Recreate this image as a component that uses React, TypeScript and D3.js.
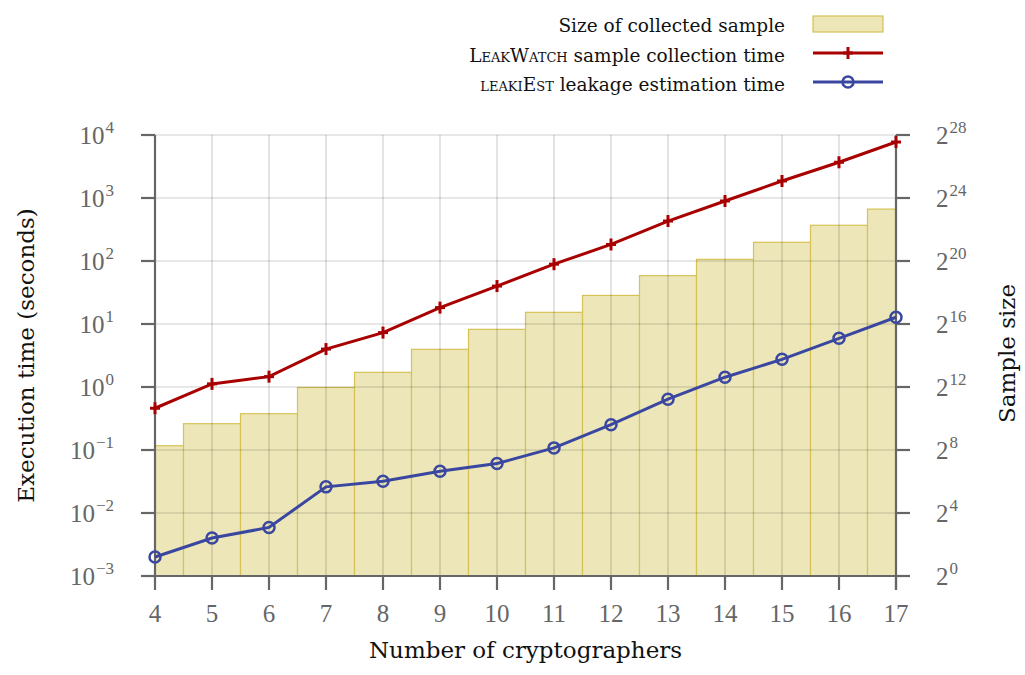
import React from "react";
import * as d3 from "d3";

const cryptographers = [4, 5, 6, 7, 8, 9, 10, 11, 12, 13, 14, 15, 16, 17];
const sampleSize = [309, 815, 1264, 4010, 7810, 21500, 51800, 109600, 231000, 550000, 1130000, 2390000, 5050000, 10300000];
const leakWatchTime = [0.46, 1.12, 1.46, 4.0, 7.3, 18.2, 40, 89, 183, 431, 896, 1862, 3690, 7740];
const leakiEstTime = [0.002, 0.004, 0.0059, 0.026, 0.032, 0.046, 0.061, 0.108, 0.252, 0.64, 1.43, 2.75, 5.93, 12.8];
const leftTickExps = [-3, -2, -1, 0, 1, 2, 3, 4];
const rightTickExps = [0, 4, 8, 12, 16, 20, 24, 28];

const NUMFONT = "'Liberation Serif', serif";
const WORDFONT = "'DejaVu Serif', serif";
const AXIS = "#666666";
const RED = "#a80000";
const BLUE = "#3a47a0";
const BAR_FILL = "#ede6b9";
const BAR_STROKE = "#d6c257";

export default function App() {
  const left = 155, right = 896, top = 135, bottom = 576;
  const x = d3.scaleLinear().domain([4, 17]).range([left, right]);
  const yL = d3.scaleLog().domain([1e-3, 1e4]).range([bottom, top]);
  const yR = d3.scaleLog().base(2).domain([1, 2 ** 28]).range([bottom, top]);

  const line = d3.line<number>().x((_, i) => x(cryptographers[i])).y((d) => yL(d));

  const cross = (cx: number, cy: number, k: string) => (
    <g key={k} stroke={RED} strokeWidth={3}>
      <line x1={cx - 5} x2={cx + 5} y1={cy} y2={cy} />
      <line x1={cx} x2={cx} y1={cy - 6} y2={cy + 6} />
    </g>
  );
  const circ = (cx: number, cy: number, k: string) => (
    <circle key={k} cx={cx} cy={cy} r={5.5} fill="none" stroke={BLUE} strokeWidth={2.5} />
  );

  return (
    <svg width={1025} height={675} style={{ position: "absolute", left: 0, top: 0, background: "#fff" }} fontFamily={NUMFONT}>
      {/* bars */}
      {cryptographers.map((c, i) => {
        const x0 = x(Math.max(4, c - 0.5));
        const x1 = x(Math.min(17, c + 0.5));
        const yt = yR(sampleSize[i]);
        return (
          <rect key={"b" + c} x={x0} y={yt} width={x1 - x0} height={bottom - yt}
            fill={BAR_FILL} stroke={BAR_STROKE} strokeWidth={1.2} />
        );
      })}
      {/* grid */}
      <g stroke="#000" strokeOpacity={0.19} strokeWidth={1.2}>
        {cryptographers.map((c) => (
          <line key={"gx" + c} x1={x(c)} x2={x(c)} y1={top} y2={bottom} />
        ))}
        {leftTickExps.map((e) => (
          <line key={"gy" + e} x1={left} x2={right} y1={yL(10 ** e)} y2={yL(10 ** e)} />
        ))}
      </g>
      {/* axes */}
      <g stroke={AXIS} strokeWidth={2.2}>
        <line x1={left} x2={left} y1={top} y2={bottom} />
        <line x1={right} x2={right} y1={top} y2={bottom + 14} />
        <line x1={left - 14} x2={right + 14} y1={bottom} y2={bottom} />
        {leftTickExps.map((e) => (
          <line key={"tl" + e} x1={left - 14} x2={left} y1={yL(10 ** e)} y2={yL(10 ** e)} />
        ))}
        {rightTickExps.map((e) => (
          <line key={"tr" + e} x1={right} x2={right + 14} y1={yR(2 ** e)} y2={yR(2 ** e)} />
        ))}
        {cryptographers.map((c) => (
          <line key={"tx" + c} x1={x(c)} x2={x(c)} y1={bottom} y2={bottom + 14} />
        ))}
      </g>
      {/* tick labels */}
      <g fill={AXIS} fontSize={25}>
        {leftTickExps.map((e) => (
          <text key={"ll" + e} x={left - 41} y={yL(10 ** e) + 9} textAnchor="end">
            10
            <tspan fontSize={17} dx={1} dy={-11}>{e < 0 ? "\u2212" + Math.abs(e) : e}</tspan>
          </text>
        ))}
        {rightTickExps.map((e) => (
          <text key={"rl" + e} x={right + 40} y={yR(2 ** e) + 9}>
            2
            <tspan fontSize={17} dx={1} dy={-11}>{e}</tspan>
          </text>
        ))}
        {cryptographers.map((c) => (
          <text key={"xl" + c} x={x(c)} y={622} textAnchor="middle">{c}</text>
        ))}
      </g>
      {/* axis titles */}
      <g fill="#111" fontSize={23} fontFamily={WORDFONT}>
        <text x={(left + right) / 2} y={658} textAnchor="middle">Number of cryptographers</text>
        <text transform={`translate(34,${(top + bottom) / 2}) rotate(-90)`} textAnchor="middle">Execution time (seconds)</text>
        <text transform={`translate(1015,${(top + bottom) / 2 - 2}) rotate(-90)`} textAnchor="middle">Sample size</text>
      </g>
      {/* lines */}
      <path d={line(leakWatchTime) || ""} fill="none" stroke={RED} strokeWidth={3} />
      {leakWatchTime.map((v, i) => cross(x(cryptographers[i]), yL(v), "m" + i))}
      <path d={line(leakiEstTime) || ""} fill="none" stroke={BLUE} strokeWidth={3} />
      {leakiEstTime.map((v, i) => circ(x(cryptographers[i]), yL(v), "c" + i))}
      {/* legend */}
      <g fontSize={18.5} fill="#111" fontFamily={WORDFONT}>
        <text x={785} y={32} textAnchor="end">Size of collected sample</text>
        <text x={785} y={62} textAnchor="end">
          <tspan style={{ fontVariant: "small-caps" }}>LeakWatch</tspan> sample collection time
        </text>
        <text x={785} y={91} textAnchor="end">
          <tspan style={{ fontVariant: "small-caps" }}>leakiEst</tspan> leakage estimation time
        </text>
      </g>
      <rect x={813} y={16} width={70} height={16} fill={BAR_FILL} stroke={BAR_STROKE} strokeWidth={1.2} />
      <line x1={813} x2={883} y1={53} y2={53} stroke={RED} strokeWidth={3} />
      {cross(848, 53, "lg1")}
      <line x1={813} x2={883} y1={82} y2={82} stroke={BLUE} strokeWidth={3} />
      {circ(848, 82, "lg2")}
    </svg>
  );
}
